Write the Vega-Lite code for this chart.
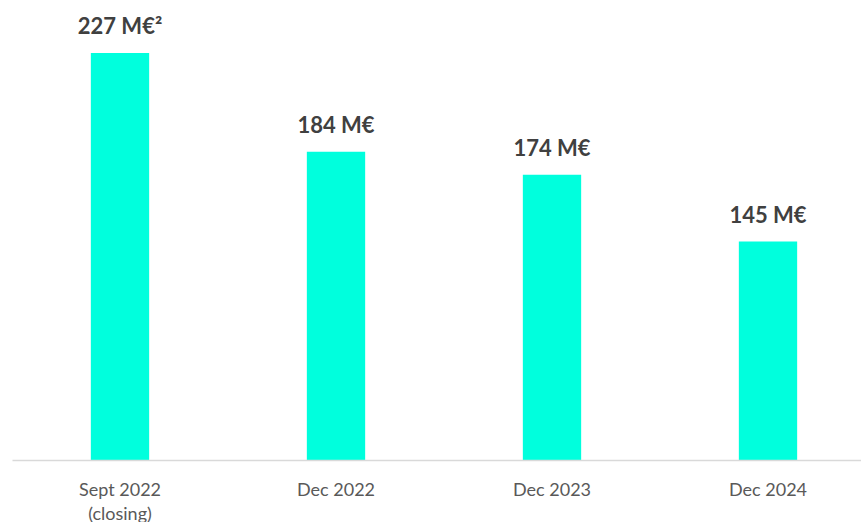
{
  "$schema": "https://vega.github.io/schema/vega-lite/v6.json",
  "width": 864,
  "height": 460,
  "padding": {"left": 12, "top": 0, "right": 0, "bottom": 0},
  "autosize": {"type": "pad"},
  "background": "white",
  "config": {"view": {"stroke": null}, "font": "Lato"},
  "data": {
    "values": [
      {"period": "Sept 2022", "value": 227, "label": "227 M€²"},
      {"period": "Dec 2022", "value": 184, "label": "184 M€"},
      {"period": "Dec 2023", "value": 174, "label": "174 M€"},
      {"period": "Dec 2024", "value": 145, "label": "145 M€"}
    ]
  },
  "encoding": {
    "x": {
      "field": "period",
      "type": "nominal",
      "sort": null,
      "scale": {"paddingInner": 0.73, "paddingOuter": 0.365},
      "axis": {
        "title": null,
        "labelAngle": 0,
        "labelFont": "Lato",
        "labelFontSize": 18,
        "labelColor": "#595959",
        "labelPadding": 21,
        "labelLineHeight": 24,
        "labelExpr": "datum.value == 'Sept 2022' ? ['Sept 2022', '(closing)'] : datum.value",
        "ticks": false,
        "domainColor": "#d9d9d9",
        "domainWidth": 1.5,
        "grid": false,
        "zindex": 1
      }
    },
    "y": {
      "field": "value",
      "type": "quantitative",
      "scale": {"domain": [50, 250], "zero": false, "nice": false, "clamp": true},
      "axis": null
    }
  },
  "layer": [
    {
      "mark": {"type": "bar", "color": "#00FFDD"},
      "encoding": {"y2": {"datum": 50}}
    },
    {
      "mark": {"type": "text", "baseline": "bottom", "dy": -14, "fontSize": 22, "fontWeight": "bold", "color": "#404040", "font": "Lato"},
      "encoding": {"text": {"field": "label"}}
    }
  ]
}
